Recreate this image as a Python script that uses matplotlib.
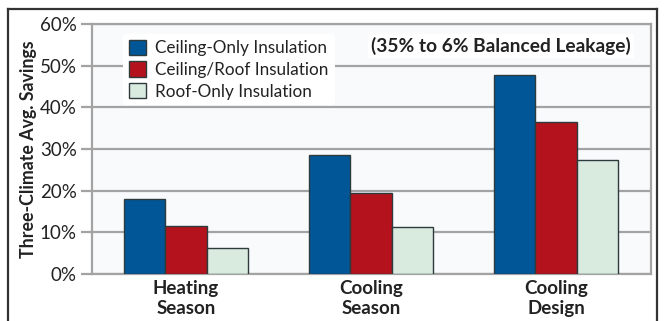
import numpy as np
import matplotlib.pyplot as plt
from matplotlib.lines import Line2D

plt.rcParams['font.family'] = ['Lato', 'DejaVu Sans']

groups = ['Heating\nSeason', 'Cooling\nSeason', 'Cooling\nDesign']
series = ['Ceiling-Only Insulation', 'Ceiling/Roof Insulation', 'Roof-Only Insulation']
ceiling_only = [18.0, 28.6, 47.8]
ceiling_roof = [11.5, 19.4, 36.5]
roof_only = [6.2, 11.2, 27.3]
colors = ['#005696', '#b4121c', '#d9eadf']
yticks = [0, 10, 20, 30, 40, 50, 60]

fig = plt.figure(figsize=(6.64, 3.21), dpi=100)
fig.patch.set_facecolor('white')

# outer frame (open at the bottom)
fx0, fx1, fy1 = 8/664, 657/664, 1 - 9/321
for xs, ys in [([fx0, fx0], [0, fy1]), ([fx1, fx1], [0, fy1]), ([fx0, fx1], [fy1, fy1])]:
    fig.add_artist(Line2D(xs, ys, color='#333333', lw=1.6, transform=fig.transFigure))

ax = fig.add_axes([92/664, 1 - 274/321, (651 - 92)/664, (274 - 24)/321])
ax.set_facecolor('#f9fafc')

x = np.arange(len(groups))
w = 0.224
for i, (vals, c, lab) in enumerate(zip([ceiling_only, ceiling_roof, roof_only], colors, series)):
    ax.bar(x + (i - 1) * w, vals, w, color=c, edgecolor='#2e3b3d', linewidth=1.0, label=lab, zorder=3)

ax.set_xlim(-0.508, 2.514)
ax.set_ylim(0, 60)
ax.set_yticks(yticks)
ax.set_yticklabels([f'{t}%' for t in yticks], fontsize=13.5, color='#222222')
ax.set_xticks(x)
ax.set_xticklabels(groups, fontsize=13.5, fontweight='bold', linespacing=1.25, color='#222222')
ax.tick_params(axis='x', length=0, pad=4)
ax.tick_params(axis='y', length=8, width=1.6, color='#a3a3a3', pad=3)
ax.grid(axis='y', color='#a3a3a3', linewidth=1.6, zorder=0)
ax.set_axisbelow(True)
for s in ax.spines.values():
    s.set_color('#a3a3a3')
    s.set_linewidth(1.6)

ax.set_ylabel('Three-Climate Avg. Savings', fontsize=12.8, fontweight='bold', labelpad=2, color='#222222')

leg = ax.legend(loc='upper left', bbox_to_anchor=(0.04, 0.995), fontsize=12.3, frameon=True,
                facecolor='white', edgecolor='white', framealpha=1, handlelength=1.0,
                handleheight=1.0, handletextpad=0.55, labelspacing=0.3, borderpad=0.35)
leg.get_frame().set_linewidth(0)
for t in leg.get_texts():
    t.set_color('#222222')

ax.text(0.964, 0.912, '(35% to 6% Balanced Leakage)', transform=ax.transAxes, ha='right',
        va='center', fontsize=13.8, fontweight='bold', color='#222222',
        bbox=dict(facecolor='white', edgecolor='none', pad=2))

fig.savefig('out.png', dpi=100)
